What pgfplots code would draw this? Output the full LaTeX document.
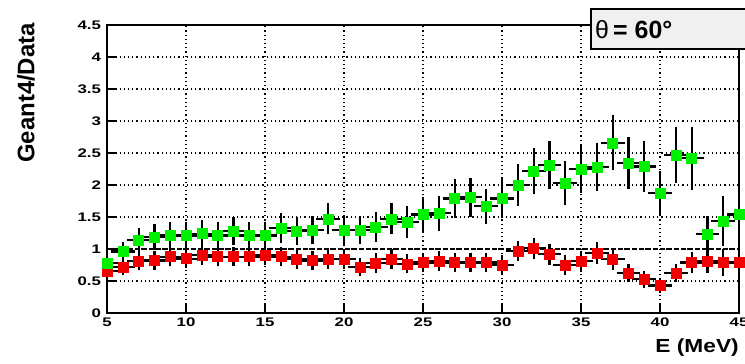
\documentclass[border=0pt]{standalone}
\usepackage{pgfplots}
\pgfplotsset{compat=1.18}
\usepackage{fontspec}
\setmainfont{Liberation Sans}
\definecolor{rootgreen}{RGB}{0,240,0}
\definecolor{rootred}{RGB}{240,0,0}
\definecolor{legendgray}{RGB}{240,240,240}
\pgfplotsset{rooterr/.style={error bars/.cd, x dir=both, x fixed=0.5, y dir=both, y explicit,
  error bar style={black, line width=2.2bp, solid},
  error mark options={black, line width=2.2bp, mark size=4bp, solid}}}
\begin{document}
\begin{tikzpicture}[x=1bp,y=1bp]
\useasboundingbox (0,0) rectangle (745,363);
\begin{axis}[
  at={(107bp,50bp)}, anchor=origin,
  scale only axis, width=632bp, height=288bp,
  xmin=5, xmax=45, ymin=0, ymax=4.5,
  xtick={5,10,...,45}, ytick={0,0.5,...,4.5},
  yticklabels={0,0.5,1,1.5,2,2.5,3,3.5,4,4.5},
  xticklabels={5,10,15,20,25,30,35,40,45},
  tick align=inside, xtick pos=bottom, ytick pos=left,
  major tick length=10bp,
  tick style={black, line width=1.5bp},
  axis line style={line width=1.7bp},
  grid=major,
  major grid style={black, line width=1.1bp, dash pattern=on 1.2bp off 3bp},
  ticklabel style={font=\bfseries\fontsize{12.5}{12.5}\selectfont, xscale=1.35},
  yticklabel style={xshift=-1bp},
  xticklabel style={yshift=-1bp},
  /pgf/number format/assume math mode=true,
]
\addplot[black, line width=1.4bp, dash pattern=on 5bp off 2bp, forget plot] coordinates {(5,1) (45,1)};
\addplot[only marks, line width=2.2bp, mark=square*, mark size=5bp, mark options={draw=rootred, fill=rootred, line width=0.4bp},
  rooterr]
  table[x=x, y=y, y error=e] {
x y e
5 0.66 0.05
6 0.72 0.07
7 0.81 0.08
8 0.82 0.08
9 0.88 0.09
10 0.85 0.09
11 0.91 0.10
12 0.88 0.09
13 0.88 0.09
14 0.88 0.09
15 0.91 0.10
16 0.88 0.09
17 0.84 0.09
18 0.82 0.09
19 0.84 0.09
20 0.84 0.09
21 0.72 0.08
22 0.78 0.09
23 0.84 0.09
24 0.77 0.09
25 0.79 0.09
26 0.81 0.09
27 0.79 0.09
28 0.79 0.09
29 0.79 0.09
30 0.75 0.09
31 0.97 0.10
32 1.01 0.10
33 0.92 0.10
34 0.75 0.09
35 0.81 0.10
36 0.94 0.11
37 0.84 0.10
38 0.62 0.08
39 0.53 0.07
40 0.43 0.06
41 0.62 0.08
42 0.79 0.10
43 0.81 0.13
44 0.79 0.15
45 0.79 0.12
};
\addplot[only marks, line width=2.2bp, mark=square*, mark size=5bp, mark options={draw=rootgreen, fill=rootgreen, line width=0.4bp},
  rooterr]
  table[x=x, y=y, y error=e] {
x y e
5 0.78 0.06
6 0.96 0.08
7 1.14 0.13
8 1.19 0.14
9 1.21 0.15
10 1.21 0.15
11 1.24 0.15
12 1.21 0.15
13 1.28 0.15
14 1.21 0.15
15 1.21 0.15
16 1.33 0.17
17 1.28 0.16
18 1.30 0.16
19 1.47 0.18
20 1.30 0.17
21 1.30 0.16
22 1.34 0.17
23 1.47 0.18
24 1.42 0.19
25 1.54 0.21
26 1.56 0.21
27 1.79 0.24
28 1.81 0.24
29 1.67 0.21
30 1.79 0.25
31 2.00 0.26
32 2.22 0.30
33 2.31 0.31
34 2.03 0.28
35 2.25 0.31
36 2.28 0.31
37 2.66 0.37
38 2.34 0.34
39 2.29 0.34
40 1.87 0.28
41 2.47 0.38
42 2.42 0.43
43 1.23 0.22
44 1.44 0.33
45 1.54 0.30
};
\end{axis}
\fill[legendgray] (591,314) rectangle (745,354);
\draw[black, line width=1.3bp] (745,354) -- (591,354) -- (591,314) -- (745,314);
\node[anchor=west, inner sep=0pt, font=\fontsize{25}{25}\selectfont] at (595,333) {θ\,\textbf{= 60°}};
\node[anchor=east, inner sep=0pt, font=\bfseries\fontsize{19}{19}\selectfont, xscale=1.2] at (739,15) {E (MeV)};
\node[anchor=east, inner sep=0pt, rotate=90, font=\bfseries\fontsize{24}{24}\selectfont] at (26,340) {Geant4/Data};
\end{tikzpicture}
\end{document}
